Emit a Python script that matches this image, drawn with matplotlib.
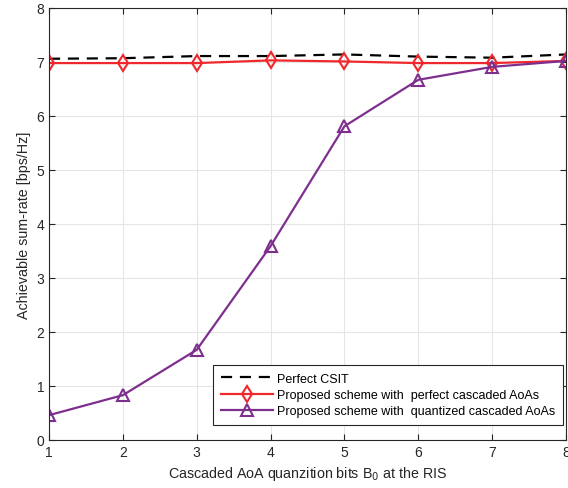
import numpy as np
import matplotlib.pyplot as plt

plt.rcParams["font.family"] = ["Liberation Sans", "DejaVu Sans"]
plt.rcParams["font.size"] = 10

bits = [1, 2, 3, 4, 5, 6, 7, 8]
perfect_csit = [7.06, 7.07, 7.11, 7.11, 7.14, 7.10, 7.08, 7.14]
perfect_aoa = [6.98, 6.98, 6.98, 7.03, 7.01, 6.98, 6.98, 7.02]
quantized_aoa = [0.46, 0.83, 1.67, 3.59, 5.81, 6.67, 6.91, 7.02]

fig = plt.figure(figsize=(5.68, 4.89), dpi=100)
ax = fig.add_axes([49/568, 1 - 441/489, 517/568, 432/489])

ax.plot(bits, perfect_csit, color="black", linestyle=(0, (5, 3.5)), linewidth=1.6, label="Perfect CSIT")
ax.plot(bits, perfect_aoa, color="#f0282d", marker="d", markersize=8, markerfacecolor="none",
        markeredgewidth=1.5, linewidth=1.6, label="Proposed scheme with  perfect cascaded AoAs")
ax.plot(bits, quantized_aoa, color="#7e2f8e", marker="^", markersize=8, markerfacecolor="none",
        markeredgewidth=1.5, linewidth=1.6, label="Proposed scheme with  quantized cascaded AoAs")

ax.set_xlim(1, 8)
ax.set_ylim(0, 8)
ax.set_xticks(bits)
ax.set_yticks(range(0, 9))
ax.grid(True, color="#e6e6e6", linewidth=0.8)
ax.set_axisbelow(True)
ax.tick_params(direction="in", colors="#262626", labelsize=10, top=True, right=True, length=4)
for s in ax.spines.values():
    s.set_color("#262626")
    s.set_linewidth(0.8)

ax.set_xlabel("Cascaded AoA quanzition bits B$_0$ at the RIS", color="#262626", fontsize=10.3)
ax.set_ylabel("Achievable sum-rate [bps/Hz]", color="#262626", fontsize=10.3)

leg = ax.legend(loc="lower right", bbox_to_anchor=(514/517, 15/432), bbox_transform=ax.transAxes,
                borderaxespad=0, fancybox=False, framealpha=1, edgecolor="#262626",
                numpoints=1, handlelength=4.2, handletextpad=0.3, borderpad=0.6,
                labelspacing=0.35, fontsize=9)
leg.get_frame().set_linewidth(0.8)

fig.savefig("out.png", dpi=100)
